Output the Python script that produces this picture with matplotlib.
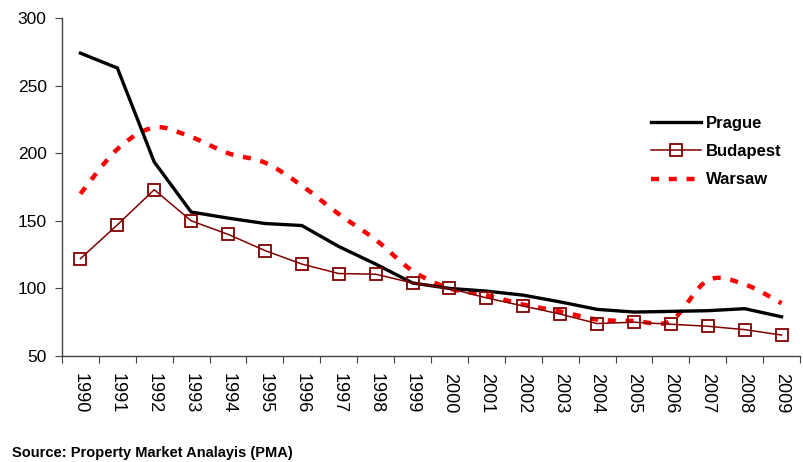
import numpy as np
import matplotlib
matplotlib.use("Agg")
import matplotlib.pyplot as plt
from matplotlib.path import Path
from matplotlib.patches import PathPatch
from matplotlib.lines import Line2D

years = [str(y) for y in range(1990, 2010)]
prague = [274, 263, 193.5, 156.5, 152, 148, 146.5, 131, 118, 104, 100, 98, 95, 90, 84.5, 82.5, 83, 83.5, 85, 79]
budapest = [122, 147, 173, 150, 140, 128, 118, 111, 110.5, 104, 100, 93, 87, 81, 74, 75, 73.5, 72, 69.5, 65.5]
warsaw = [170, 203, 219, 212, 200, 193, 176, 155, 136, 113, 100, 95, 88, 83, 77, 76, 76, 106, 103, 89]

plt.rcParams['font.family'] = ['Liberation Sans', 'DejaVu Sans']

fig = plt.figure(figsize=(8.04, 4.62), dpi=100)
ax = fig.add_axes([62/804, 1-356/462, 738/804, 338/462])

x = np.arange(len(years))

# smooth (Bezier) path for Warsaw, as Excel's smoothed line
def smooth_path(xs, ys, t=1/6):
    xs = np.asarray(xs, float); ys = np.asarray(ys, float)
    n = len(xs)
    verts = [(xs[0], ys[0])]
    codes = [Path.MOVETO]
    for i in range(n-1):
        p0 = np.array([xs[max(i-1, 0)], ys[max(i-1, 0)]])
        p1 = np.array([xs[i], ys[i]])
        p2 = np.array([xs[i+1], ys[i+1]])
        p3 = np.array([xs[min(i+2, n-1)], ys[min(i+2, n-1)]])
        c1 = p1 + (p2 - p0) * t
        c2 = p2 - (p3 - p1) * t
        verts += [tuple(c1), tuple(c2), tuple(p2)]
        codes += [Path.CURVE4]*3
    return Path(verts, codes)

dash = (0, (1.8, 2.2))
wp = PathPatch(smooth_path(x, warsaw), facecolor='none', edgecolor='#ff0000',
               lw=3.2, linestyle=dash, capstyle='butt', zorder=2)
ax.add_patch(wp)

ax.plot(x, prague, color='black', lw=2.4, zorder=3, solid_joinstyle='miter')
ax.plot(x, budapest, color='#800000', lw=1.1, marker='s', markersize=9,
        markerfacecolor='none', markeredgecolor='#800000', markeredgewidth=1.3, zorder=4)

ax.set_xlim(-0.5, len(years)-0.5)
ax.set_ylim(50, 300)
ax.set_yticks([50, 100, 150, 200, 250, 300])
ax.set_xticks(np.arange(-0.5, len(years), 1), minor=False)
ax.set_xticklabels([])
ax.set_xticks(x, minor=True)
ax.set_xticklabels(years, minor=True, rotation=270, fontsize=13)
ax.tick_params(axis='x', which='minor', length=0, pad=12)
ax.tick_params(axis='x', which='major', length=5, direction='out', color='#444444')
ax.tick_params(axis='y', length=5, direction='out', labelsize=12.5, pad=6, color='#444444')
for s in ['top', 'right']:
    ax.spines[s].set_visible(False)
for s in ['left', 'bottom']:
    ax.spines[s].set_color('#444444')
    ax.spines[s].set_linewidth(1)

handles = [
    Line2D([], [], color='black', lw=2.4),
    Line2D([], [], color='#800000', lw=1.1, marker='s', markersize=9,
           markerfacecolor='none', markeredgewidth=1.3),
    Line2D([], [], color='#ff0000', lw=3.2, linestyle=dash),
]
leg = ax.legend(handles, ['Prague', 'Budapest', 'Warsaw'], frameon=False,
                loc='upper left', bbox_to_anchor=(0.778, 0.755), handlelength=3.0,
                handletextpad=0.3, labelspacing=0.8,
                prop={'family': ['Liberation Sans'], 'weight': 'bold', 'size': 12})

fig.text(12/804, 1-453/462, 'Source: Property Market Analayis (PMA)',
         family=['Liberation Sans'], weight='bold', fontsize=10.5, va='center')

fig.savefig('out.png', dpi=100)
